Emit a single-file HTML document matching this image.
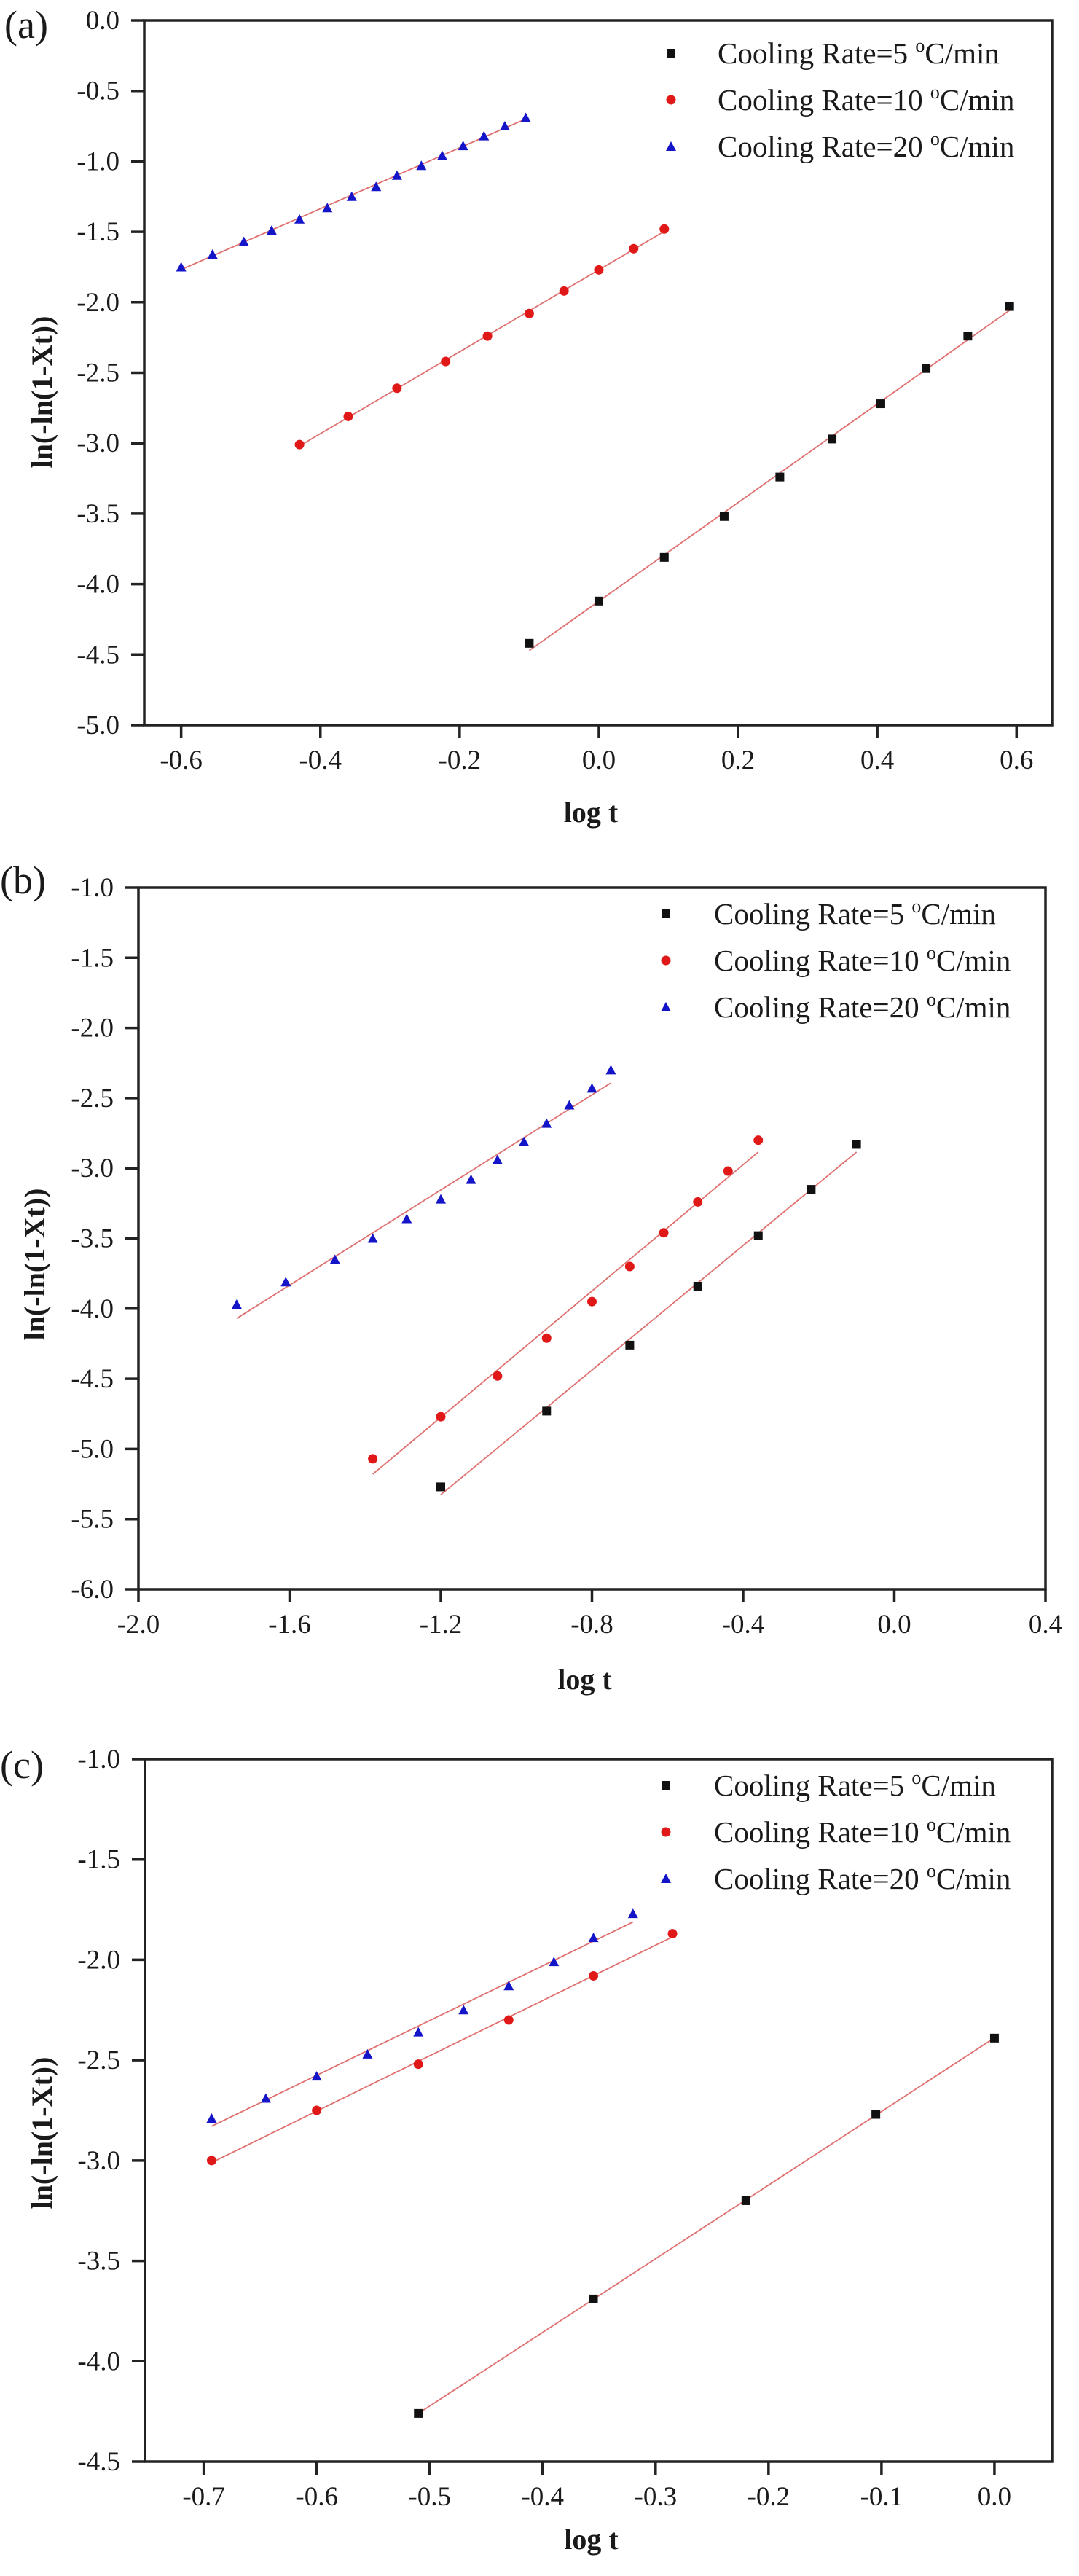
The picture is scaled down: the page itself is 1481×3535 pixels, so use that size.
<!DOCTYPE html>
<html><head><meta charset="utf-8">
<style>
html,body{margin:0;padding:0;background:#fff;}
svg{display:block;}
text{font-family:"Liberation Serif","Times New Roman",serif;fill:#1a1a1a;}
.tick{font-size:37px;}
.ttl{font-size:40px;font-weight:bold;}
.leg{font-size:41px;}
.pl{font-size:54px;}
</style></head>
<body>
<svg id="fig" width="1481" height="3535" viewBox="0 0 1481 3535" xmlns="http://www.w3.org/2000/svg"></svg>
<script>
// ---- Panel (a) data ----
const aX5 = [-0.1,0,0.094,0.18,0.26,0.335,0.405,0.47,0.53,0.59];
const aY5 = [-4.42,-4.12,-3.81,-3.52,-3.24,-2.97,-2.72,-2.47,-2.24,-2.03];
const aX10 = [-0.43,-0.36,-0.29,-0.22,-0.16,-0.1,-0.05,0,0.05,0.094];
const aY10 = [-3.01,-2.81,-2.61,-2.42,-2.24,-2.08,-1.92,-1.77,-1.62,-1.48];
const aX20 = [-0.6,-0.555,-0.51,-0.47,-0.43,-0.39,-0.355,-0.32,-0.29,-0.255,-0.225,-0.195,-0.165,-0.135,-0.105];
const aY20 = [-1.75,-1.66,-1.57,-1.49,-1.41,-1.33,-1.25,-1.18,-1.10,-1.03,-0.96,-0.89,-0.82,-0.75,-0.69];
const aXTicks = [-0.6,-0.4,-0.2,0.0,0.2,0.4,0.6];
const aYTicks = [0,-0.5,-1,-1.5,-2,-2.5,-3,-3.5,-4,-4.5,-5];
// ---- Panel (b) data ----
const bX5 = [-1.2,-0.92,-0.7,-0.52,-0.36,-0.22,-0.1];
const bY5 = [-5.27,-4.73,-4.26,-3.84,-3.48,-3.15,-2.83];
const bX10 = [-1.38,-1.2,-1.05,-0.92,-0.8,-0.7,-0.61,-0.52,-0.44,-0.36];
const bY10 = [-5.07,-4.77,-4.48,-4.21,-3.95,-3.70,-3.46,-3.24,-3.02,-2.80];
const bX20 = [-1.74,-1.61,-1.48,-1.38,-1.29,-1.2,-1.12,-1.05,-0.98,-0.92,-0.86,-0.8,-0.75];
const bY20 = [-3.97,-3.81,-3.65,-3.50,-3.36,-3.22,-3.08,-2.94,-2.81,-2.68,-2.55,-2.43,-2.30];
const bXTicks = [-2.0,-1.6,-1.2,-0.8,-0.4,0.0,0.4];
const bYTicks = [-1,-1.5,-2,-2.5,-3,-3.5,-4,-4.5,-5,-5.5,-6];
// ---- Panel (c) data ----
const cX5 = [-0.51,-0.355,-0.22,-0.105,0];
const cY5 = [-4.26,-3.69,-3.20,-2.77,-2.39];
const cX10 = [-0.693,-0.6,-0.51,-0.43,-0.355,-0.285];
const cY10 = [-3.0,-2.75,-2.52,-2.30,-2.08,-1.87];
const cX20 = [-0.693,-0.645,-0.6,-0.555,-0.51,-0.47,-0.43,-0.39,-0.355,-0.32];
const cY20 = [-2.79,-2.69,-2.58,-2.47,-2.36,-2.25,-2.13,-2.01,-1.89,-1.77];
const cXTicks = [-0.7,-0.6,-0.5,-0.4,-0.3,-0.2,-0.1,0.0];
const cYTicks = [-1,-1.5,-2,-2.5,-3,-3.5,-4,-4.5];
const legendLabels = ["Cooling Rate=5 ","Cooling Rate=10 ","Cooling Rate=20 "];

const NS="http://www.w3.org/2000/svg";
const svg=document.getElementById('fig');
function mk(tag,attrs,parent){const e=document.createElementNS(NS,tag);for(const k in attrs)e.setAttribute(k,attrs[k]);(parent||svg).appendChild(e);return e;}
function fit(xs,ys){const n=xs.length;let sx=0,sy=0,sxx=0,sxy=0;for(let i=0;i<n;i++){sx+=xs[i];sy+=ys[i];sxx+=xs[i]*xs[i];sxy+=xs[i]*ys[i];}const m=(n*sxy-sx*sy)/(n*sxx-sx*sx);return {m:m,b:(sy-m*sx)/n};}
function marker(g,kind,px,py){
  let e;
  if(kind===0){e=mk('rect',{x:px-6,y:py-6,width:12,height:12,fill:'#111'},g);}
  else if(kind===1){e=mk('circle',{cx:px,cy:py,r:6.5,fill:'#e01818'},g);}
  else {e=mk('polygon',{points:(px)+','+(py-7)+' '+(px-7)+','+(py+6)+' '+(px+7)+','+(py+6),fill:'#1414c8'},g);}
  
  
}
function panel(p){
  const g=mk('g',{});
  
  
  const sx=v=>p.L+(v-p.xmin)/(p.xmax-p.xmin)*(p.R-p.L);
  const sy=v=>p.T+(p.ymax-v)/(p.ymax-p.ymin)*(p.B-p.T);
  const lab=mk('text',{x:p.lx,y:p.ly,class:'pl'},g);lab.textContent='('+p.id+')';
  
  // series
  const series=[[p.x5,p.y5],[p.x10,p.y10],[p.x20,p.y20]];
  series.forEach((s,k)=>{
    const f=fit(s[0],s[1]);const x0=Math.min(...s[0]),x1=Math.max(...s[0]);
    const ln=mk('line',{x1:sx(x0),y1:sy(f.m*x0+f.b),x2:sx(x1),y2:sy(f.m*x1+f.b),stroke:'#e07070','stroke-width':1.8},g);
    
  });
  series.forEach((s,k)=>{for(let i=0;i<s[0].length;i++)marker(g,k,sx(s[0][i]),sy(s[1][i]));});
  // frame
  const fr=mk('rect',{x:p.L,y:p.T,width:p.R-p.L,height:p.B-p.T,fill:'none',stroke:'#222','stroke-width':3.5},g);
  
  p.xt.forEach(v=>{
    mk('line',{x1:sx(v),y1:p.B,x2:sx(v),y2:p.B+18,stroke:'#222','stroke-width':3.5},g);
    const t=mk('text',{x:sx(v),y:p.B+60,class:'tick','text-anchor':'middle'},g);
    t.textContent=v.toFixed(1);
    
  });
  p.yt.forEach(v=>{
    mk('line',{x1:p.L-18,y1:sy(v),x2:p.L,y2:sy(v),stroke:'#222','stroke-width':3.5},g);
    const t=mk('text',{x:p.L-34,y:sy(v)+12,class:'tick','text-anchor':'end'},g);
    t.textContent=v.toFixed(1);
    
  });
  const xt=mk('text',{x:(p.L+p.R)/2-10,y:p.xty,class:'ttl','text-anchor':'middle'},g);
  xt.textContent='log t';
  const yt=mk('text',{x:0,y:0,class:'ttl','text-anchor':'middle',transform:'translate('+(p.ytx+14)+','+p.yty+') rotate(-90)'},g);
  yt.textContent='ln(-ln(1-Xt))';
  // legend
  legendLabels.forEach((s,k)=>{
    const ry=p.legY+k*64;
    marker(g,k,p.legMx,ry);
    const t=mk('text',{x:p.legTx,y:ry+14,class:'leg'},g);
    
    t.appendChild(document.createTextNode(s));
    const sup=mk('tspan',{dy:-16,'font-size':26},t);sup.textContent='o';
    const r=mk('tspan',{dy:16},t);r.textContent='C/min';
  });
}
panel({id:'a',L:198,R:1444,T:28,B:995,xmin:-0.653,xmax:0.651,ymin:-5,ymax:0,
  x5:aX5,y5:aY5,x10:aX10,y10:aY10,x20:aX20,y20:aY20,xt:aXTicks,yt:aYTicks,
  lx:6,ly:52,xty:1128,ytx:57,yty:538,legMx:921,legTx:985,legY:73});
panel({id:'b',L:190,R:1435,T:1218,B:2181,xmin:-2.0,xmax:0.4,ymin:-6,ymax:-1,
  x5:bX5,y5:bY5,x10:bX10,y10:bY10,x20:bX20,y20:bY20,xt:bXTicks,yt:bYTicks,
  lx:0,ly:1226,xty:2318,ytx:47,yty:1735,legMx:914,legTx:980,legY:1254});
panel({id:'c',L:199,R:1444,T:2414,B:3378,xmin:-0.752,xmax:0.051,ymin:-4.5,ymax:-1,
  x5:cX5,y5:cY5,x10:cX10,y10:cY10,x20:cX20,y20:cY20,xt:cXTicks,yt:cYTicks,
  lx:0,ly:2440,xty:3498,ytx:57,yty:2927,legMx:914,legTx:980,legY:2450});
</script>
</body></html>
